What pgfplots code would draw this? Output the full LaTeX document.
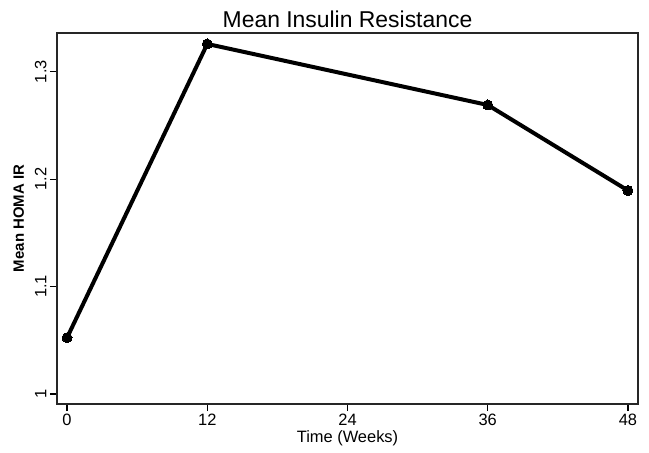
\documentclass[border=0pt]{standalone}
\usepackage{pgfplots}
\pgfplotsset{compat=1.18}
\usepackage{fontspec}
\setmainfont{Liberation Sans}
\begin{document}
\begin{tikzpicture}
\path[use as bounding box] (-57bp,-49bp) rectangle (592bp,404bp);
\begin{axis}[
  at={(0,0)}, anchor=south west,
  scale only axis, width=581bp, height=371bp,
  xmin=-0.86, xmax=48.86, ymin=0.9907, ymax=1.336,
  xtick={0,12,24,36,48}, ytick={1,1.1,1.2,1.3},
  yticklabels={1,1.1,1.2,1.3},
  tick align=outside, tick pos=left,
  major tick length=7bp,
  axis line style={line width=1.5pt, black!85},
  every tick/.style={black, line width=1.2pt},
  /pgf/number format/assume math mode=true,
  ticklabel style={font=\fontsize{16.5}{16.5}\selectfont},
  yticklabel style={rotate=90, anchor=south},
  title={Mean Insulin Resistance},
  title style={font=\fontsize{23}{23}\selectfont, yshift=-4bp},
  xlabel={Time (Weeks)},
  xlabel style={font=\fontsize{16.5}{16.5}\selectfont, yshift=2bp},
  ylabel={Mean HOMA IR},
  ylabel style={font=\bfseries\fontsize{15}{15}\selectfont, yshift=4bp},
]
\addplot[black, line width=4bp, mark=*, mark size=5bp, mark options={line width=0pt}] coordinates {
  (0,1.0524) (12,1.3258) (36,1.269) (48,1.1894)
};
\end{axis}
\end{tikzpicture}
\end{document}
